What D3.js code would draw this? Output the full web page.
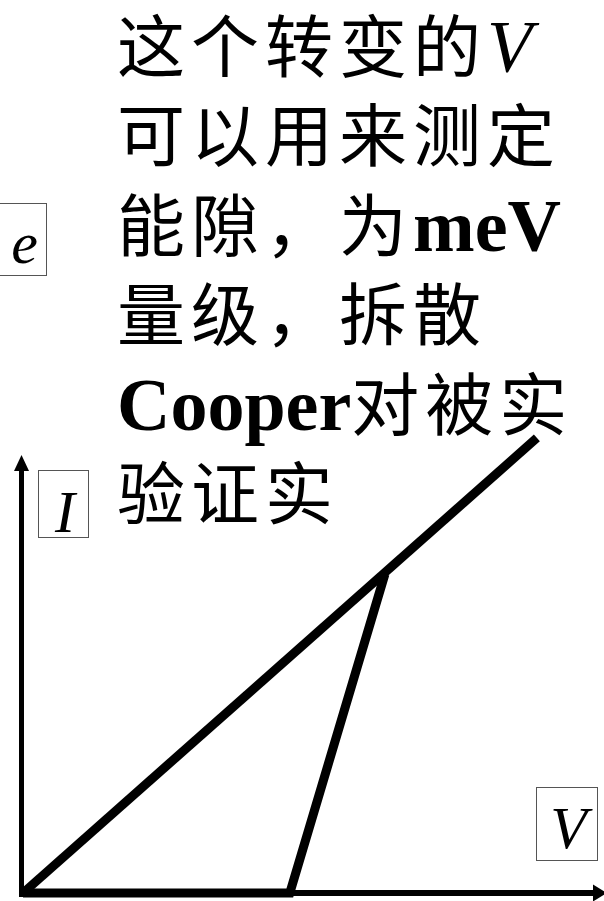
<!DOCTYPE html>
<html>
<head>
<meta charset="utf-8">
<script src="https://cdn.jsdelivr.net/npm/d3@7"></script>
<style>
  html, body { margin: 0; padding: 0; background: #fff; }
  svg { display: block; }
</style>
</head>
<body>
<svg id="chart" width="604" height="901"></svg>
<script>
// I–V characteristic of a normal-metal / superconductor tunnel junction
const normalV = [0, 88.6];          // normal state: straight ohmic line
const normalI = [0, 103.9];
const superV  = [0, 46.0, 62.4];    // superconducting state: no current below the gap voltage
const superI  = [0, 0, 72.8];

const axisLabels = { x: "V", y: "I", corner: "e" };

// Annotation text, one entry per line; each piece is [text, style]
const noteLines = [
  [["这个转变的", "cjk"], ["V", "italic"]],
  [["可以用来测定", "cjk"]],
  [["能隙，为", "cjk"], ["meV", "bold"]],
  [["量级，拆散", "cjk"]],
  [["Cooper", "bold"], ["对被实", "cjk"]],
  [["验证实", "cjk"]]
];

const svg = d3.select("#chart");

const x = d3.scaleLinear().domain([0, 100]).range([23, 603]);
const y = d3.scaleLinear().domain([0, 100]).range([893, 455]);

// Axes: plain arrowed lines with no ticks
const xAxis = d3.axisBottom(x).tickValues([]).tickSizeOuter(0);
const yAxis = d3.axisLeft(y).tickValues([]).tickSizeOuter(0);

const gx = svg.append("g").attr("transform", `translate(0,${y(0)})`).call(xAxis);
gx.select(".domain").attr("stroke", "#000").attr("stroke-width", 6)
  .attr("d", `M${x(0) - 2},0H${x(100) - 8}`);
gx.append("path")
  .attr("d", `M${x(100) - 10},-8.5L${x(100) + 4},0L${x(100) - 10},8.5Z`)
  .attr("fill", "#000");

const gy = svg.append("g").attr("transform", `translate(${x(0) - 1.5},0)`).call(yAxis);
gy.select(".domain").attr("stroke", "#000").attr("stroke-width", 5)
  .attr("d", `M0,${y(0) + 4}V${y(100) + 14}`);
gy.append("path")
  .attr("d", `M-7.5,${y(100) + 16}L0,${y(100)}L7.5,${y(100) + 16}Z`)
  .attr("fill", "#000");

// Curves
const line = d3.line().x(d => x(d[0])).y(d => y(d[1]));

svg.append("path")
  .datum(d3.zip(normalV, normalI))
  .attr("d", line)
  .attr("fill", "none")
  .attr("stroke", "#000")
  .attr("stroke-width", 9)
  .attr("stroke-linecap", "butt");

svg.append("path")
  .datum(d3.zip(superV, superI))
  .attr("d", line)
  .attr("fill", "none")
  .attr("stroke", "#000")
  .attr("stroke-width", 9)
  .attr("stroke-linejoin", "miter")
  .attr("stroke-linecap", "butt");

// Boxed italic symbols
const boxes = [
  { t: axisLabels.corner, x0: -1,  y0: 203, w: 47, h: 72, base: 263 },
  { t: axisLabels.y,      x0: 38,  y0: 470, w: 50, h: 67, base: 532 },
  { t: axisLabels.x,      x0: 536, y0: 787, w: 61, h: 73, base: 848 }
];
const bg = svg.append("g");
boxes.forEach(b => {
  bg.append("rect")
    .attr("x", b.x0 + 0.5).attr("y", b.y0 + 0.5)
    .attr("width", b.w).attr("height", b.h)
    .attr("fill", "#fff").attr("stroke", "#555").attr("stroke-width", 1);
  bg.append("text")
    .attr("x", b.x0 + b.w / 2 + 2).attr("y", b.base)
    .attr("text-anchor", "middle")
    .attr("font-family", "'Liberation Serif', 'Times New Roman', serif")
    .attr("font-style", "italic")
    .attr("font-size", 60)
    .text(b.t);
});

// Annotation block: CJK glyphs a bit smaller than the Latin text,
// spaced out so every character keeps a 74px pitch
const noteX = 117, firstBase = 72, lineStep = 89.4, fs = 74, cjkFs = 68;
const tg = svg.append("g")
  .attr("font-family", "'Liberation Serif', 'Noto Sans CJK SC', serif")
  .attr("font-size", fs)
  .attr("fill", "#000");

noteLines.forEach((pieces, i) => {
  const t = tg.append("text")
    .attr("x", noteX)
    .attr("y", firstBase + i * lineStep);
  pieces.forEach(([s, style]) => {
    const sp = t.append("tspan").text(s);
    if (style === "cjk") {
      sp.attr("font-family", "'Noto Sans CJK SC', sans-serif")
        .attr("font-size", cjkFs)
        .attr("letter-spacing", fs - cjkFs);
    }
    if (style === "italic") sp.attr("font-style", "italic");
    if (style === "bold") sp.attr("font-weight", "bold");
  });
});
</script>
</body>
</html>
